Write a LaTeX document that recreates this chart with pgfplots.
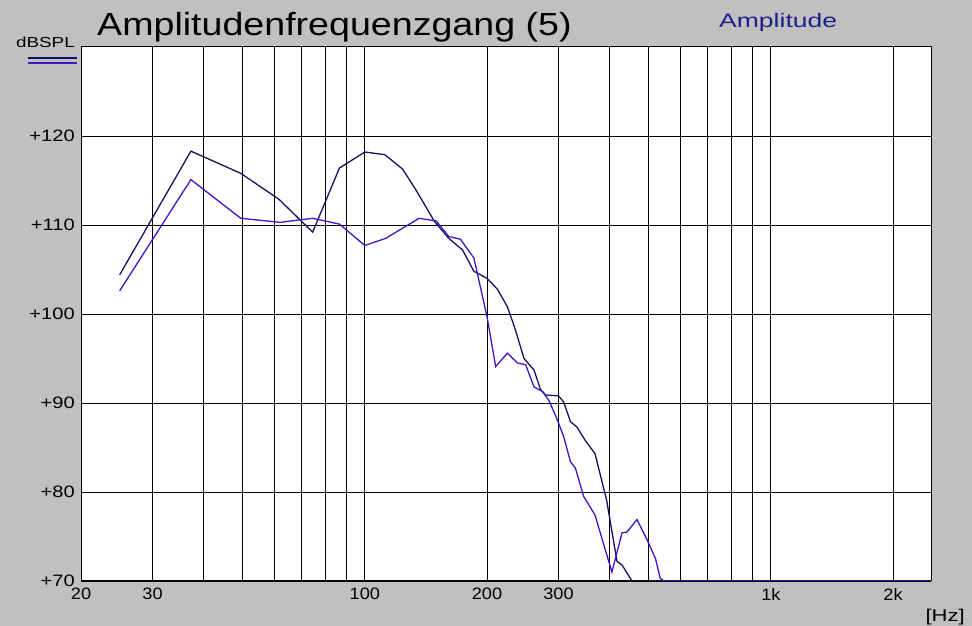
\documentclass[border=0pt]{standalone}
\usepackage{pgfplots}
\pgfplotsset{compat=1.18}
\usepackage{fontspec}
\setmainfont{Liberation Sans}
\newfontfamily\titlefont[FakeStretch=1.175]{Liberation Sans}
\newfontfamily\ampfont[FakeStretch=1.36]{Liberation Sans}
\newfontfamily\lblfont[FakeStretch=1.3]{Liberation Sans}
\newfontfamily\tickfont[FakeStretch=1.22]{Liberation Sans}
\newfontfamily\xtickfont[FakeStretch=1.1]{Liberation Sans}
\definecolor{bg}{RGB}{192,192,192}
\definecolor{darkc}{RGB}{22,18,100}
\definecolor{purpc}{RGB}{68,20,200}
\definecolor{labc}{RGB}{30,30,140}
\begin{document}
\begin{tikzpicture}
\fill[bg] (0pt,0pt) rectangle (972pt,626pt);
\begin{axis}[
  at={(81pt,45pt)}, anchor=south west,
  scale only axis, width=850pt, height=534pt,
  xmode=log, xmin=20, xmax=2480, ymin=70, ymax=130,
  axis background/.style={fill=white},
  axis line style={black, line width=1pt},
  xtick={20,30,100,200,300,1000,2000},
  xticklabels={20,30,100,200,300,1k,2k},
  minor xtick={40,50,60,70,80,90,400,500,600,700,800,900},
  ytick={70,80,90,100,110,120},
  yticklabels={+70,+80,+90,+100,+110,+120},
  grid=both,
  major grid style={black, line width=0.9pt},
  minor grid style={black, line width=0.9pt},
  major tick length=0pt, minor tick length=0pt,
  tick style={draw=none},
  xticklabel style={font=\xtickfont\fontsize{16.5}{16.5}\selectfont, inner sep=0pt, yshift=-7pt},
  yticklabel style={font=\tickfont\fontsize{16.5}{16.5}\selectfont, inner sep=0pt, xshift=-6pt},
  clip=true,
]
\addplot[color=darkc, line width=1.3pt] coordinates {
(24.9,104.4) (37.3,118.3) (49.5,115.8) (61.4,112.9) (74.4,109.2) (86.6,116.4)
(100,118.2) (112,117.9) (123.8,116.3) (133.8,113.9) (148.4,110.4) (161,108.5)
(174,107.2) (185.6,104.8) (200,104.0) (212,102.8) (224.5,100.8) (235,98.2)
(246.6,95.0) (261,93.7) (271,91.5) (279,90.9) (300,90.8) (309,90.1) (321,87.9)
(333,87.3) (349,85.8) (369,84.3) (394,79.1) (418,72.2) (430,71.8) (455,70)
(2480,70)
};
\addplot[color=purpc, line width=1.3pt] coordinates {
(24.9,102.6) (37.3,115.1) (49.5,110.75) (61.8,110.3) (74.4,110.75) (86.6,110.1)
(100,107.7) (112.6,108.5) (136,110.75) (150,110.45) (161,108.7) (172,108.4)
(185.6,106.3) (200,99.7) (210,94.1) (224.5,95.6) (237.6,94.5) (249,94.3)
(261,91.8) (273.6,91.3) (284,90.3) (298,88.1) (309,86.2) (321,83.4) (330,82.7)
(346,79.5) (369,77.4) (406,71.0) (430,75.4) (442,75.5) (468,76.9) (496,74.6)
(520,72.5) (534,70.3) (545,70) (2480,70)
};
\end{axis}
\node[anchor=base west, inner sep=0pt, font=\titlefont\fontsize{32}{32}\selectfont] at (97pt,590pt) {Amplitudenfrequenzgang (5)};
\node[anchor=base west, inner sep=0pt, text=labc, font=\ampfont\fontsize{19.5}{19.5}\selectfont] at (719pt,598pt) {Amplitude};
\node[anchor=base east, inner sep=0pt, font=\lblfont\fontsize{14.5}{14.5}\selectfont] at (75pt,578pt) {dBSPL};
\node[anchor=base east, inner sep=0pt, font=\lblfont\fontsize{17}{17}\selectfont] at (965pt,4pt) {[Hz]};
\draw[darkc, line width=1.5pt] (28pt,568pt) -- (77pt,568pt);
\draw[purpc, line width=1.5pt] (28pt,563pt) -- (77pt,563pt);
\end{tikzpicture}
\end{document}
